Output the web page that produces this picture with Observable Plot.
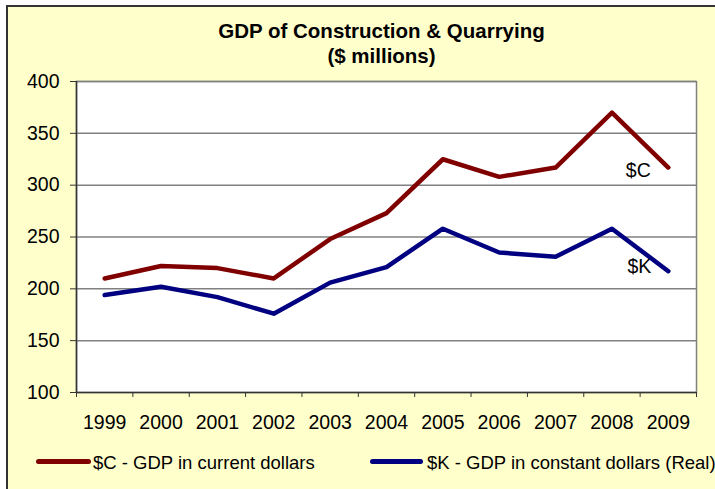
<!DOCTYPE html>
<html>
<head>
<meta charset="utf-8">
<script src="https://cdn.jsdelivr.net/npm/d3@7"></script>
<script src="https://cdn.jsdelivr.net/npm/@observablehq/plot@0.6"></script>
<style>
html, body { margin: 0; padding: 0; background: #ffffff; width: 715px; height: 489px; overflow: hidden; }
#bg { position: absolute; left: 6px; top: 5px; width: 730px; height: 500px; background: #FFFFCC; border-left: 2px solid #333; border-top: 2px solid #333; }
#chart { position: absolute; left: 0; top: 0; }
#legend { position: absolute; left: 0; top: 440px; width: 715px; height: 49px; overflow: hidden; font-family: "Liberation Sans", Arial, sans-serif; font-size: 18.5px; color: #000; }
.sw { position: absolute; top: 18.5px; height: 5px; border-radius: 2.5px; }
.lt { position: absolute; top: 14px; line-height: 18.5px; white-space: nowrap; }
</style>
</head>
<body>
<div id="bg"></div>
<div id="chart"></div>
<div id="legend"></div>
<script>
const years = [1999, 2000, 2001, 2002, 2003, 2004, 2005, 2006, 2007, 2008, 2009];
const gdpCurrent = [210, 222, 220, 210, 248, 273, 325, 308, 317, 370, 317];
const gdpConstant = [194, 202, 192, 176, 206, 221, 258, 235, 231, 258, 217];
const yTicks = [100, 150, 200, 250, 300, 350, 400];
const seriesNames = ["$C - GDP in current dollars", "$K - GDP in constant dollars (Real)"];
const seriesLabels = ["$C", "$K"];
const seriesColors = ["#800000", "#000080"];
const titleLines = ["GDP of Construction & Quarrying", "($ millions)"];

const seriesValues = [gdpCurrent, gdpConstant];
const rows = [];
seriesValues.forEach((vals, s) => years.forEach((yr, i) => rows.push({year: yr, value: vals[i], series: seriesLabels[s]})));
const boundaries = years.map(y => y - 0.5).concat([years[years.length - 1] + 0.5]);
const lastIdx = years.length - 1;
const endLabels = seriesLabels.map((lab, s) => ({year: years[lastIdx], value: seriesValues[s][lastIdx], label: lab}));

const plot = Plot.plot({
  width: 715,
  height: 440,
  marginLeft: 76,
  marginRight: 19,
  marginTop: 81,
  marginBottom: 48,
  style: {background: "transparent", fontFamily: "Liberation Sans, Arial, sans-serif", fontSize: "19.5px", color: "#000"},
  x: {type: "linear", domain: [boundaries[0], boundaries[boundaries.length - 1]], axis: null},
  y: {domain: [100, 400], axis: null},
  marks: [
    Plot.frame({fill: "white", stroke: "#808080", strokeWidth: 1.5}),
    Plot.ruleY(yTicks.slice(1), {stroke: "#808080", strokeWidth: 1.5}),
    Plot.ruleY([yTicks[0]], {stroke: "#333", strokeWidth: 1.5}),
    Plot.ruleX([boundaries[0]], {stroke: "#333", strokeWidth: 1.5}),
    Plot.axisY({ticks: yTicks, tickSize: 6, tickPadding: 11, tickFormat: d => String(d), label: null, stroke: "#333"}),
    Plot.axisX({ticks: boundaries, tickSize: 5, tickFormat: () => "", label: null, stroke: "#333"}),
    Plot.axisX({ticks: years, tickSize: 0, tickPadding: 23, tickFormat: d => String(d), label: null}),
    Plot.line(rows, {x: "year", y: "value", z: "series", stroke: d => seriesColors[seriesLabels.indexOf(d.series)], strokeWidth: 4.5, strokeLinecap: "round", strokeLinejoin: "round"}),
    Plot.text([endLabels[0]], {x: "year", y: "value", text: "label", dx: -30, dy: 9, lineAnchor: "bottom", fontSize: 19.5, fill: "#000"}),
    Plot.text([endLabels[1]], {x: "year", y: "value", text: "label", dx: -29, dy: 2, lineAnchor: "bottom", fontSize: 19.5, fill: "#000"}),
    Plot.text([titleLines[0]], {text: d => d, frameAnchor: "top", dx: -5, dy: -44, lineAnchor: "bottom", fontWeight: "bold", fontSize: 20.5, fill: "#000"}),
    Plot.text([titleLines[1]], {text: d => d, frameAnchor: "top", dx: -5, dy: -19, lineAnchor: "bottom", fontWeight: "bold", fontSize: 20.5, fill: "#000"})
  ]
});
document.getElementById("chart").appendChild(plot);

const legend = document.getElementById("legend");
const swatchPos = [[36, 55, 93], [370, 53, 427]];
seriesNames.forEach((name, i) => {
  const sw = document.createElement("div");
  sw.className = "sw";
  sw.style.left = swatchPos[i][0] + "px";
  sw.style.width = swatchPos[i][1] + "px";
  sw.style.background = seriesColors[i];
  legend.appendChild(sw);
  const t = document.createElement("div");
  t.className = "lt";
  t.style.left = swatchPos[i][2] + "px";
  t.textContent = name;
  legend.appendChild(t);
});
</script>
</body>
</html>
